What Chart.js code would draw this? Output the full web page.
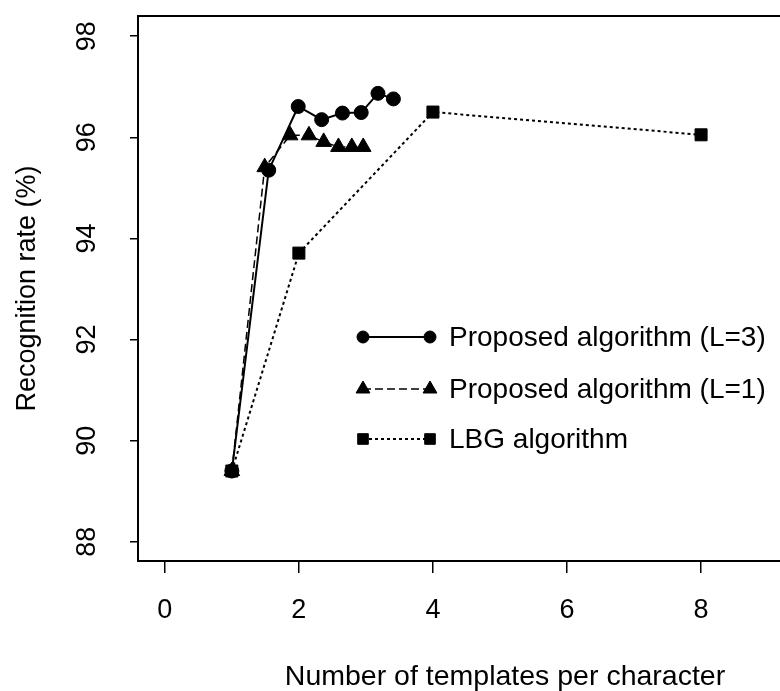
<!DOCTYPE html>
<html>
<head>
<meta charset="utf-8">
<script src="https://cdn.jsdelivr.net/npm/chart.js@4.4.1/dist/chart.umd.min.js"></script>
<style>
  html, body { margin: 0; padding: 0; background: #fff; overflow: hidden; }
  #wrap { width: 780px; height: 691px; overflow: hidden; }
  #chart { display: block; }
</style>
</head>
<body>
<div id="wrap"><canvas id="chart" width="890" height="691"></canvas></div>
<script>
// recognition rate vs. number of templates per character
const xL3 = [1, 1.55, 1.99, 2.34, 2.65, 2.93, 3.18, 3.41];
const yL3 = [89.4, 95.35, 96.61, 96.35, 96.48, 96.49, 96.87, 96.76];
const xL1 = [1, 1.49, 1.87, 2.15, 2.37, 2.59, 2.79, 2.96];
const yL1 = [89.4, 95.41, 96.04, 96.04, 95.91, 95.81, 95.81, 95.81];
const xLBG = [1, 2, 4, 8];
const yLBG = [89.4, 93.71, 96.5, 96.05];

const seriesNames = ['Proposed algorithm (L=3)', 'Proposed algorithm (L=1)', 'LBG algorithm'];
const xTicks = [0, 2, 4, 6, 8];
const yTicks = [88, 90, 92, 94, 96, 98];

const FONT = "'Liberation Sans', Arial, Helvetica, sans-serif";

function toPoints(xs, ys) {
  return xs.map((x, i) => ({ x: x, y: ys[i] }));
}

function series(label, xs, ys, style, radius, dash, width, order) {
  return {
    label: label,
    data: toPoints(xs, ys),
    showLine: true,
    borderColor: '#000',
    backgroundColor: '#000',
    borderWidth: width,
    borderDash: dash,
    pointStyle: style,
    pointRadius: radius,
    pointHoverRadius: radius,
    pointBorderWidth: 1,
    pointBorderColor: '#000',
    pointBackgroundColor: '#000',
    order: order
  };
}

// box around the plot, rotated y labels and the in-plot legend
const framePlugin = {
  id: 'frame',
  afterDraw(chart) {
    const ctx = chart.ctx;
    const a = chart.chartArea;
    const ys = chart.scales.y;
    ctx.save();
    ctx.strokeStyle = '#000';
    ctx.lineWidth = 2;
    ctx.strokeRect(a.left, a.top, a.right - a.left, a.bottom - a.top);

    ctx.fillStyle = '#000';
    ctx.font = '27px ' + FONT;
    ctx.textAlign = 'center';
    ctx.textBaseline = 'middle';
    yTicks.forEach(v => {
      ctx.save();
      ctx.translate(88, ys.getPixelForValue(v));
      ctx.rotate(-Math.PI / 2);
      ctx.fillText(String(v), 0, 0);
      ctx.restore();
    });

    const rows = [337, 389, 439];
    chart.data.datasets.forEach((ds, i) => {
      const y = rows[i];
      ctx.beginPath();
      ctx.lineWidth = ds.borderWidth;
      ctx.setLineDash(ds.borderDash);
      ctx.moveTo(363, y);
      ctx.lineTo(430, y);
      ctx.stroke();
      ctx.setLineDash([]);
      ctx.lineWidth = 1;
      [363, 430].forEach(px => {
        Chart.helpers.drawPoint(ctx, { pointStyle: ds.pointStyle, radius: ds.pointRadius - 1, rotation: 0, borderWidth: 1 }, px, y);
      });
      ctx.font = '28px ' + FONT;
      ctx.textAlign = 'left';
      ctx.fillText(ds.label, 449, y + 1);
    });
    ctx.restore();
  }
};

new Chart(document.getElementById('chart'), {
  type: 'scatter',
  data: {
    datasets: [
      series(seriesNames[0], xL3, yL3, 'circle', 7, [], 2, 1),
      series(seriesNames[1], xL1, yL1, 'triangle', 9, [8, 4], 1.5, 2),
      series(seriesNames[2], xLBG, yLBG, 'rect', 8.5, [3, 3], 2, 0)
    ]
  },
  options: {
    responsive: false,
    devicePixelRatio: 1,
    animation: false,
    layout: { padding: { top: 16, right: 18, left: 0, bottom: 0 } },
    plugins: {
      legend: { display: false },
      tooltip: { enabled: false }
    },
    scales: {
      x: {
        type: 'linear',
        min: -0.4,
        max: 10.55,
        afterBuildTicks: s => { s.ticks = xTicks.map(v => ({ value: v })); },
        afterFit: s => { s.height = 130; },
        grid: { drawOnChartArea: false, drawTicks: true, tickLength: 12, color: '#000', lineWidth: 1.5 },
        border: { display: false },
        ticks: { color: '#000', font: { family: FONT, size: 27 }, padding: 21, maxRotation: 0 },
        title: {
          display: true,
          text: 'Number of templates per character',
          color: '#000',
          font: { family: FONT, size: 28.5, lineHeight: 1 },
          padding: { top: 0, bottom: 0 }
        }
      },
      y: {
        type: 'linear',
        min: 87.62,
        max: 98.4,
        afterBuildTicks: s => { s.ticks = yTicks.map(v => ({ value: v })); },
        afterFit: s => { s.width = 138; },
        grid: { drawOnChartArea: false, drawTicks: true, tickLength: 8, color: '#000', lineWidth: 1.5 },
        border: { display: false },
        ticks: { display: false },
        title: {
          display: true,
          text: 'Recognition rate (%)',
          color: '#000',
          font: { family: FONT, size: 27, lineHeight: 1 },
          padding: { top: 14, bottom: 0 }
        }
      }
    }
  },
  plugins: [framePlugin]
});
</script>
</body>
</html>
